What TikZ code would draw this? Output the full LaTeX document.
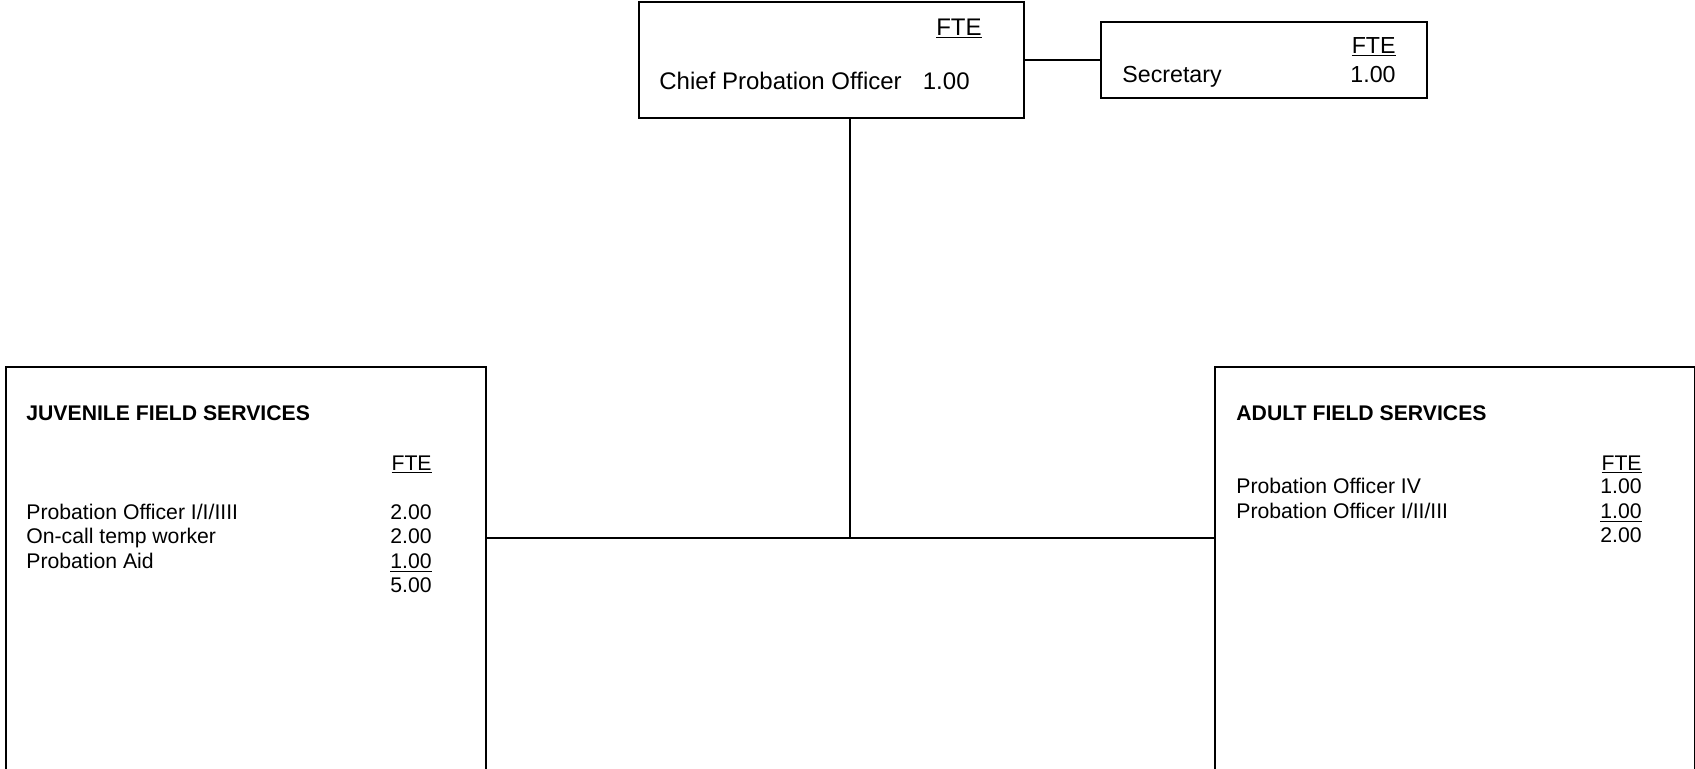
\documentclass[tikz,border=0pt]{standalone}
\usepackage{fontspec}
\setmainfont{Liberation Sans}
\begin{document}
\begin{tikzpicture}[x=0.5pt,y=-0.5pt,
  box/.style={draw=black,line width=1pt,rectangle,inner sep=0pt,anchor=north west},
  conn/.style={draw=black,line width=1pt},
  lt/.style={inner sep=0pt,anchor=base west,font=\fontsize{10.6}{12.7}\selectfont},
  rt/.style={inner sep=0pt,anchor=base east,font=\fontsize{10.6}{12.7}\selectfont},
  clt/.style={inner sep=0pt,anchor=base west,font=\fontsize{12}{14}\selectfont},
  crt/.style={inner sep=0pt,anchor=base east,font=\fontsize{12}{14}\selectfont},
  slt/.style={inner sep=0pt,anchor=base west,font=\fontsize{11.6}{14}\selectfont},
  srt/.style={inner sep=0pt,anchor=base east,font=\fontsize{11.6}{14}\selectfont}]
\useasboundingbox (0,0) rectangle (1695,768);
\clip (0,0) rectangle (1695,768);
% boxes
\node[box,minimum width=192.5pt,minimum height=57.75pt] (chief) at (638,1) {};
\node[box,minimum width=163pt,minimum height=38pt] (sec) at (1100,21) {};
\node[box,minimum width=240pt,minimum height=250pt] (juv) at (5,366) {};
\node[box,minimum width=240pt,minimum height=250pt] (adult) at (1214,366) {};
% connectors
\coordinate (j) at (850,538);
\draw[conn] (chief.east) -- (chief.east -| sec.west);
\draw[conn] (j |- chief.south) -- (j);
\draw[conn] (juv.east |- j) -- (adult.west |- j);
% chief text
\node[crt] (cfte) at (982,35) {\underline{FTE}};
\node[clt] (ctitle) at (659,89) {Chief Probation Officer};
\node[crt] (cnum) at (970,89) {1.00};
% secretary text
\node[srt] (sfte) at (1396,53) {\underline{FTE}};
\node[slt] (stitle) at (1122,82) {Secretary};
\node[srt] (snum) at (1396,82) {1.00};
% juvenile
\node[lt,font=\fontsize{10.6}{12.7}\selectfont\bfseries] (jtitle) at (26,420) {JUVENILE FIELD SERVICES};
\node[rt] (jfte) at (432,470) {\underline{FTE}};
\node[lt] (j1) at (26,519) {Probation Officer I/I/IIII};
\node[rt] (j1n) at (432,519) {2.00};
\node[lt] (j2) at (26,543.5) {On-call temp worker};
\node[rt] (j2n) at (432,543.5) {2.00};
\node[lt] (j3) at (26,568) {Probation Aid};
\node[rt] (j3n) at (432,568) {\underline{1.00}};
\node[rt] (jtot) at (432,592.5) {5.00};
% adult
\node[lt,font=\fontsize{10.6}{12.7}\selectfont\bfseries] (atitle) at (1236,420) {ADULT FIELD SERVICES};
\node[rt] (afte) at (1642,470) {\underline{FTE}};
\node[lt] (a1) at (1236,493.5) {Probation Officer IV};
\node[rt] (a1n) at (1642,493.5) {1.00};
\node[lt] (a2) at (1236,518) {Probation Officer I/II/III};
\node[rt] (a2n) at (1642,518) {\underline{1.00}};
\node[rt] (atot) at (1642,542.5) {2.00};
\end{tikzpicture}
\end{document}
